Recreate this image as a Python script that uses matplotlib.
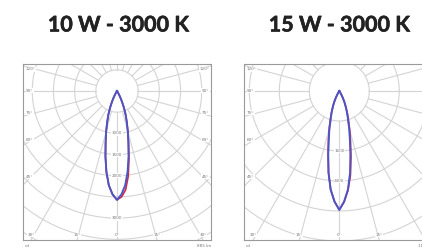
import numpy as np
import matplotlib.pyplot as plt
import matplotlib.patheffects as pe

# chart data (intensity in cd against angle from nadir, degrees)
titles = ["10 W - 3000 K", "15 W - 3000 K"]
flux_labels = ["885 lm", "1160 lm"]
ring_steps = [500, 800]
ring_labels = [[1000, 1500, 2000, 3000], [1600, 2400]]

angles = [-35, -32.5, -30, -27.5, -25, -22.5, -20, -17.5, -15, -12.5, -10, -7.5, -5, -2.5, 0,
          2.5, 5, 7.5, 10, 12.5, 15, 17.5, 20, 22.5, 25, 27.5, 30, 32.5, 35]
blue_10w = [0, 20, 70, 160, 280, 430, 600, 770, 990, 1240, 1570, 1920, 2230, 2440, 2570,
            2440, 2230, 1920, 1570, 1240, 990, 770, 600, 430, 280, 160, 70, 20, 0]
red_10w = [0, 20, 70, 160, 280, 430, 600, 770, 990, 1240, 1570, 1920, 2230, 2440, 2570,
           2500, 2340, 2030, 1630, 1260, 990, 770, 600, 430, 280, 160, 70, 20, 0]
blue_15w = [0, 30, 90, 190, 315, 440, 590, 763, 1010, 1300, 1705, 2200, 2640, 2950, 3170,
            2950, 2640, 2200, 1705, 1300, 1010, 763, 590, 440, 315, 190, 90, 30, 0]
red_15w = [0, 30, 90, 190, 315, 440, 600, 780, 1030, 1330, 1720, 2200, 2640, 2950, 3170,
           2960, 2660, 2270, 1790, 1380, 1070, 810, 620, 450, 320, 190, 90, 30, 0]

side_labels = ["120°", "90°", "75°", "60°", "45°"]
side_label_y = [0.970, 0.848, 0.723, 0.568, 0.360]
bottom_angles = [-30, -15, 0, 15, 30]

GRID = "#d4d4d4"
TXT = "#777777"

fig = plt.figure(figsize=(4.22, 2.48), dpi=100)

# axes boxes in pixels: left, bottom(from top), width
boxes = [(23, 240, 188), (244, 240, 190.6)]
cd_per_px = [23.6, 26.67]
centre_from_top = 27
box_h = 176

curves = [(blue_10w, red_10w), (blue_15w, red_15w)]
centres_x = [118.3, 339.3]
white = dict(facecolor="white", edgecolor="none", pad=0.3)

for i in range(2):
    left, bot, w = boxes[i]
    ax = fig.add_axes([left / 422, (248 - bot) / 248, w / 422, box_h / 248])
    s = cd_per_px[i]
    half = w / 2 * s
    ax.set_xlim(-half, half)
    ylo = -(box_h - centre_from_top) * s
    ax.set_ylim(ylo, centre_from_top * s)
    ax.set_xticks([])
    ax.set_yticks([])
    for sp in ax.spines.values():
        sp.set_color("#9a9a9a")
        sp.set_linewidth(0.8)

    step = ring_steps[i]
    t = np.linspace(0, 2 * np.pi, 400)
    for k in range(1, 11):
        ax.plot(k * step * np.cos(t), k * step * np.sin(t), color=GRID, lw=0.8, zorder=1)
    for a in range(0, 360, 15):
        ar = np.radians(a)
        ax.plot([step * np.sin(ar), 8000 * np.sin(ar)],
                [-step * np.cos(ar), -8000 * np.cos(ar)], color=GRID, lw=0.8, zorder=1)

    th = np.radians(angles)
    blue, red = curves[i]
    ax.plot(np.array(red) * np.sin(th), -np.array(red) * np.cos(th), color="#d42a3c", lw=1.2, zorder=3)
    ax.plot(np.array(blue) * np.sin(th), -np.array(blue) * np.cos(th), color="#4b55c8", lw=1.4, zorder=4)

    for v in ring_labels[i]:
        ax.text(0, -v, str(v), fontsize=3, color=TXT, ha="center", va="center", zorder=2, bbox=white)

    right_px = left + w
    for lab, yy in zip(side_labels, side_label_y):
        ax.text(0.016, yy, lab, transform=ax.transAxes, fontsize=3, color=TXT,
                ha="left", va="center", zorder=2, bbox=white)
        if right_px <= 422:
            ax.text(0.99, yy, lab, transform=ax.transAxes, fontsize=3, color=TXT,
                    ha="right", va="center", zorder=2, bbox=white)
    yb = ylo + 5 * s
    for a in bottom_angles:
        xb = -ylo * np.tan(np.radians(a))
        if left + w / 2 + xb / s > 416:
            continue
        ax.text(xb, yb, "%d°" % abs(a), fontsize=3, color=TXT,
                ha="center", va="center", zorder=2, bbox=white)

    ax.text(0.01, -0.032, "cd", transform=ax.transAxes, fontsize=3, color=TXT, ha="left", va="center")
    ax.text(1.0, -0.032, flux_labels[i], transform=ax.transAxes, fontsize=3, color=TXT,
            ha="right", va="center")

    fig.text(centres_x[i] / 422, 1 - 25 / 248, titles[i], fontsize=15.5, fontweight="bold",
             family=["Lato", "DejaVu Sans"], color="#222222", ha="center", va="center",
             path_effects=[pe.withStroke(linewidth=0.4, foreground="#222222")])

fig.savefig("out.png", dpi=100)
